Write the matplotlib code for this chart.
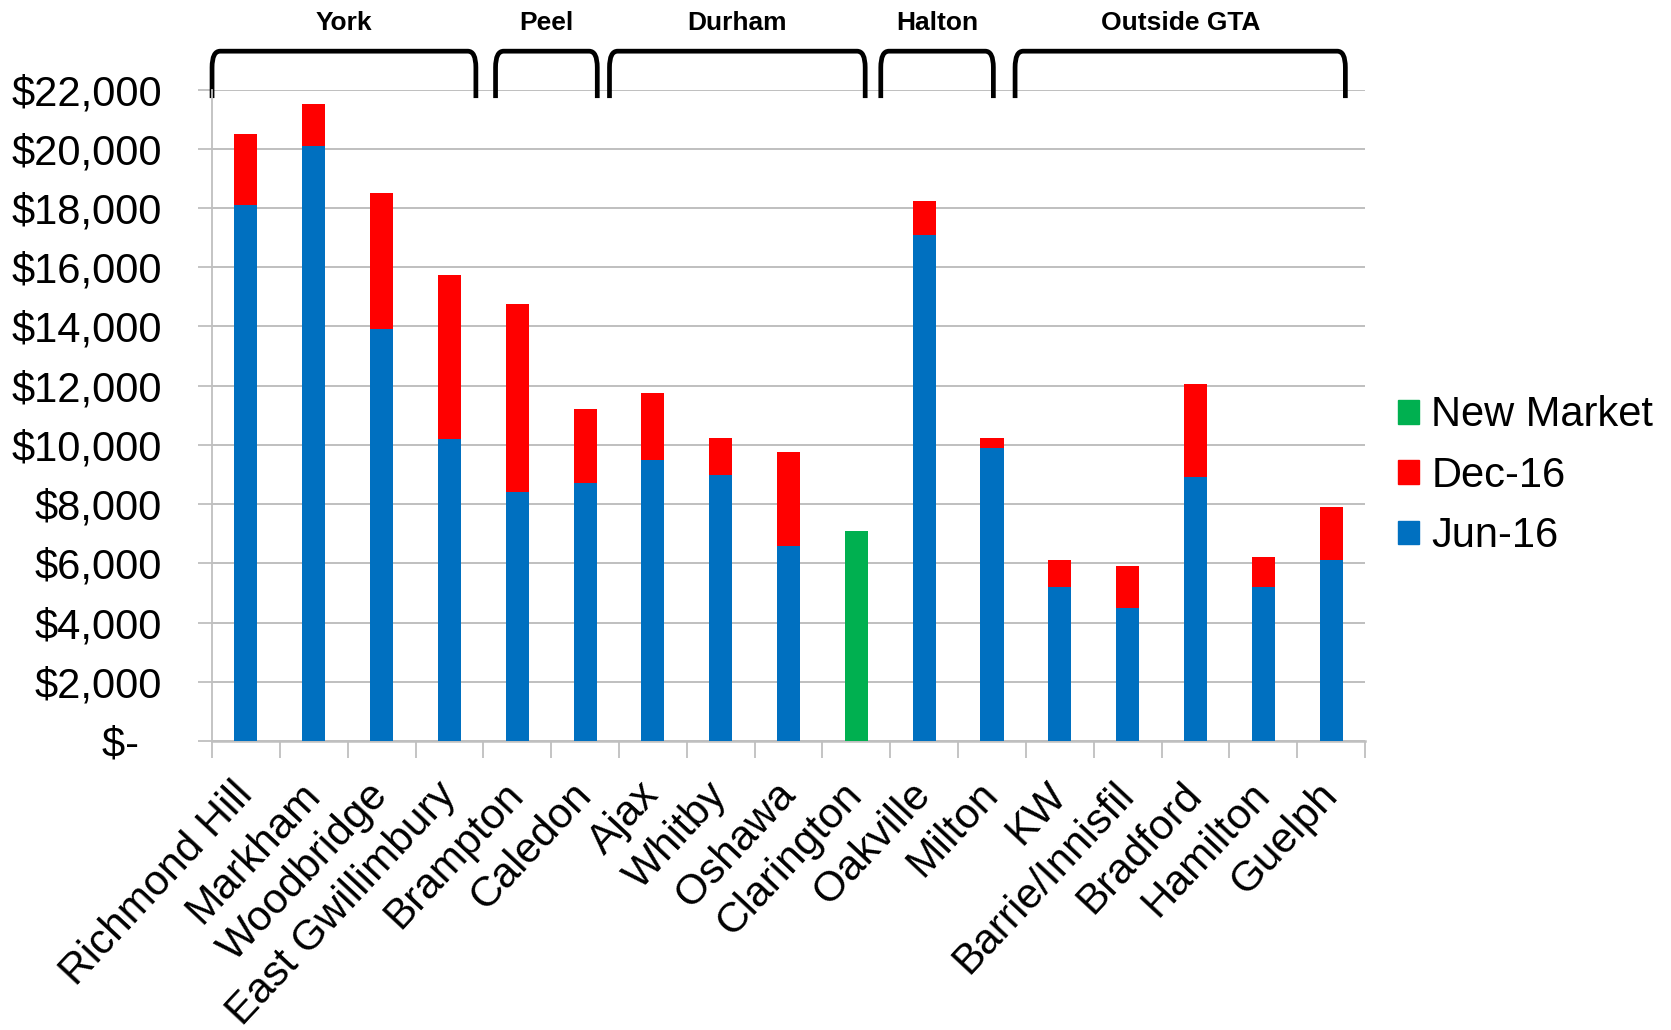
import matplotlib
matplotlib.use("Agg")
import matplotlib.pyplot as plt
from matplotlib.patches import Patch, PathPatch
from matplotlib.path import Path
from matplotlib.transforms import blended_transform_factory
from matplotlib.ticker import FuncFormatter, FixedLocator
import numpy as np

plt.rcParams['font.family'] = ['Liberation Sans', 'DejaVu Sans']

# Average price per municipality
cities = ["Richmond Hill", "Markham", "Woodbridge", "East Gwillimbury", "Brampton",
          "Caledon", "Ajax", "Whitby", "Oshawa", "Clarington", "Oakville", "Milton",
          "KW", "Barrie/Innisfil", "Bradford", "Hamilton", "Guelph"]
jun16 = [18100, 20100, 13900, 10200, 8400, 8700, 9500, 9000, 6600, 0,
         17100, 9900, 5200, 4500, 8900, 5200, 6100]
dec16 = [20500, 21500, 18500, 15750, 14750, 11200, 11750, 10250, 9750, 0,
         18250, 10250, 6100, 5900, 12050, 6200, 7900]
new_market = [0, 0, 0, 0, 0, 0, 0, 0, 0, 7100, 0, 0, 0, 0, 0, 0, 0]

regions = ["York", "Peel", "Durham", "Halton", "Outside GTA"]
# horizontal extent of each region bracket, in category units
bracket_spans = [(-0.5, 3.39), (3.68, 5.18), (5.36, 9.13), (9.36, 11.02), (11.34, 16.21)]

BLUE = "#0070C0"
RED = "#FF0000"
GREEN = "#00B050"
GRID = "#BFBFBF"

fig = plt.figure(figsize=(16.71, 10.30), dpi=100)
ax = fig.add_axes([0.1269, 0.2806, 0.6900, 0.6324])

x = np.arange(len(cities))
jun = np.array(jun16, dtype=float)
dec = np.array(dec16, dtype=float)
nm = np.array(new_market, dtype=float)
width = 0.34

ax.bar(x, jun, width, color=BLUE, zorder=3)
ax.bar(x, dec - jun, width, bottom=jun, color=RED, zorder=3)
ax.bar(x, nm, width, color=GREEN, zorder=3)

ax.set_xlim(-0.5, len(cities) - 0.5)
ax.set_ylim(0, 22000)

# y axis
ax.set_yticks(np.arange(0, 22001, 2000))
ax.yaxis.set_major_formatter(FuncFormatter(lambda v, p: f"${v:,.0f}" if v > 0 else "$-  "))
ax.tick_params(axis='y', which='major', length=10, width=1.3, color=GRID,
               labelsize=30, pad=26)
ax.yaxis.grid(True, color=GRID, linewidth=1.4, zorder=0)
ax.set_axisbelow(True)

# x axis: labels at centres, tick marks at category boundaries
ax.set_xticks(x)
ax.set_xticklabels(cities, rotation=47, ha='right', va='center',
                   rotation_mode='anchor', fontsize=30.5)
ax.tick_params(axis='x', which='major', length=0, pad=34)
ax.xaxis.set_minor_locator(FixedLocator(np.arange(-0.5, len(cities), 1.0)))
ax.tick_params(axis='x', which='minor', length=12, width=1.3, color=GRID)

for s in ("top", "right"):
    ax.spines[s].set_visible(False)
ax.spines["left"].set_color(GRID)
ax.spines["left"].set_linewidth(1.3)
ax.spines["bottom"].set_color(GRID)
ax.spines["bottom"].set_linewidth(1.8)

# region brackets above the plot
trans = blended_transform_factory(ax.transData, ax.transAxes)
y_top, y_bot = 1.059, 0.987
rx, ry = 0.12, 0.025
for name, (x0, x1) in zip(regions, bracket_spans):
    verts = [(x0, y_bot), (x0, y_top - ry), (x0, y_top), (x0 + rx, y_top),
             (x1 - rx, y_top), (x1, y_top), (x1, y_top - ry), (x1, y_bot)]
    codes = [Path.MOVETO, Path.LINETO, Path.CURVE3, Path.CURVE3,
             Path.LINETO, Path.CURVE3, Path.CURVE3, Path.LINETO]
    ax.add_patch(PathPatch(Path(verts, codes), transform=trans, fill=False,
                           edgecolor="black", linewidth=3.4, clip_on=False,
                           capstyle='butt', joinstyle='round'))
    ax.text((x0 + x1) / 2, 1.103, name, transform=trans, ha='center', va='center',
            fontsize=19, fontweight='bold', clip_on=False)

handles = [Patch(color=GREEN, label="New Market"),
           Patch(color=RED, label="Dec-16"),
           Patch(color=BLUE, label="Jun-16")]
fig.legend(handles=handles, loc='center left', bbox_to_anchor=(1398 / 1671, 0.538),
           frameon=False, fontsize=30, handlelength=0.5, handleheight=0.5,
           handletextpad=0.3, labelspacing=0.49, borderpad=0, borderaxespad=0)

fig.savefig("out.png", dpi=100, facecolor="white")
